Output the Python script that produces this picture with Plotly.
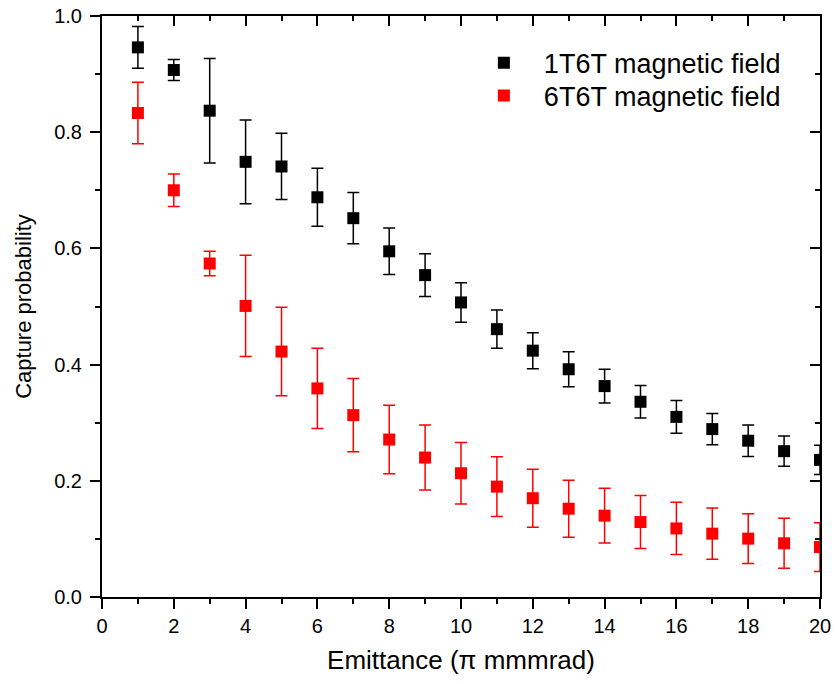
import plotly.graph_objects as go

emittance = list(range(1, 21))
b_y = [0.946, 0.907, 0.837, 0.749, 0.741, 0.688, 0.652, 0.595, 0.554, 0.507,
       0.461, 0.424, 0.392, 0.363, 0.336, 0.310, 0.289, 0.269, 0.251, 0.236]
b_err = [0.036, 0.018, 0.090, 0.072, 0.057, 0.050, 0.044, 0.040, 0.037, 0.034,
         0.033, 0.031, 0.030, 0.029, 0.028, 0.028, 0.027, 0.027, 0.026, 0.025]
r_y = [0.833, 0.700, 0.574, 0.501, 0.4225, 0.359, 0.313, 0.271, 0.240, 0.213,
       0.190, 0.170, 0.152, 0.140, 0.129, 0.118, 0.109, 0.1005, 0.0925, 0.086]
r_err = [0.053, 0.028, 0.021, 0.087, 0.076, 0.069, 0.063, 0.059, 0.056, 0.053,
         0.0515, 0.050, 0.049, 0.047, 0.0455, 0.045, 0.044, 0.043, 0.043, 0.042]
names = ["1T6T magnetic field", "6T6T magnetic field"]
x_ticks = [0, 2, 4, 6, 8, 10, 12, 14, 16, 18, 20]
y_ticks = [0.0, 0.2, 0.4, 0.6, 0.8, 1.0]

FONT = "Arial, Liberation Sans, sans-serif"

fig = go.Figure()
fig.add_trace(go.Scatter(
    x=emittance, y=b_y, mode="markers", name=names[0], legend="legend",
    marker=dict(symbol="square", size=12, color="black"),
    error_y=dict(type="data", array=b_err, visible=True, color="black",
                 thickness=1.5, width=6),
))
fig.add_trace(go.Scatter(
    x=emittance, y=r_y, mode="markers", name=names[1], legend="legend2",
    marker=dict(symbol="square", size=12, color="#ff0000"),
    error_y=dict(type="data", array=r_err, visible=True, color="#ff0000",
                 thickness=1.5, width=6),
))
# dummy trace to activate mirrored (top/right) axes with inward ticks
fig.add_trace(go.Scatter(x=[None], y=[None], xaxis="x2", yaxis="y2",
                         showlegend=False, hoverinfo="skip"))

common = dict(showgrid=False, zeroline=False, showline=True, linecolor="black",
              linewidth=2, tickcolor="black", tickwidth=2, ticklen=10,
              automargin=False,
              tickfont=dict(family=FONT, size=20, color="black"))

leg_common = dict(xanchor="left", yanchor="middle", bgcolor="rgba(0,0,0,0)",
                  itemwidth=70, borderwidth=0,
                  font=dict(family=FONT, size=27, color="black"))

fig.update_layout(
    width=835, height=684, autosize=False,
    margin=dict(l=102, r=15, t=16, b=87),
    plot_bgcolor="white", paper_bgcolor="white",
    font=dict(family=FONT, color="black"),
    xaxis=dict(range=[0, 20], tickvals=x_ticks, ticktext=[str(v) for v in x_ticks],
               ticks="outside",
               minor=dict(dtick=1, tick0=0, ticklen=5, tickwidth=2, tickcolor="black", ticks="outside"),
               title=dict(text="Emittance (\u03c0 mmmrad)", font=dict(family=FONT, size=26), standoff=15),
               **common),
    yaxis=dict(range=[0, 1], tickvals=y_ticks, ticktext=[f"{v:.1f}" for v in y_ticks],
               ticks="outside", ticklabelstandoff=4,
               minor=dict(dtick=0.1, tick0=0, ticklen=5, tickwidth=2, tickcolor="black", ticks="outside"),
               title=dict(text="Capture probability", font=dict(family=FONT, size=22), standoff=16),
               **common),
    xaxis2=dict(overlaying="x", side="top", range=[0, 20], tickvals=x_ticks, ticks="inside",
                showticklabels=False,
                minor=dict(dtick=1, tick0=0, ticklen=5, tickwidth=2, tickcolor="black", ticks="inside"),
                **common),
    yaxis2=dict(overlaying="y", side="right", range=[0, 1], tickvals=y_ticks, ticks="inside",
                showticklabels=False,
                minor=dict(dtick=0.1, tick0=0, ticklen=5, tickwidth=2, tickcolor="black", ticks="inside"),
                **common),
    legend=dict(x=0.504, y=(597 - 63.3) / 581, **leg_common),
    legend2=dict(x=0.504, y=(597 - 96) / 581, **leg_common),
    showlegend=True,
)

fig.write_html("out.html")
